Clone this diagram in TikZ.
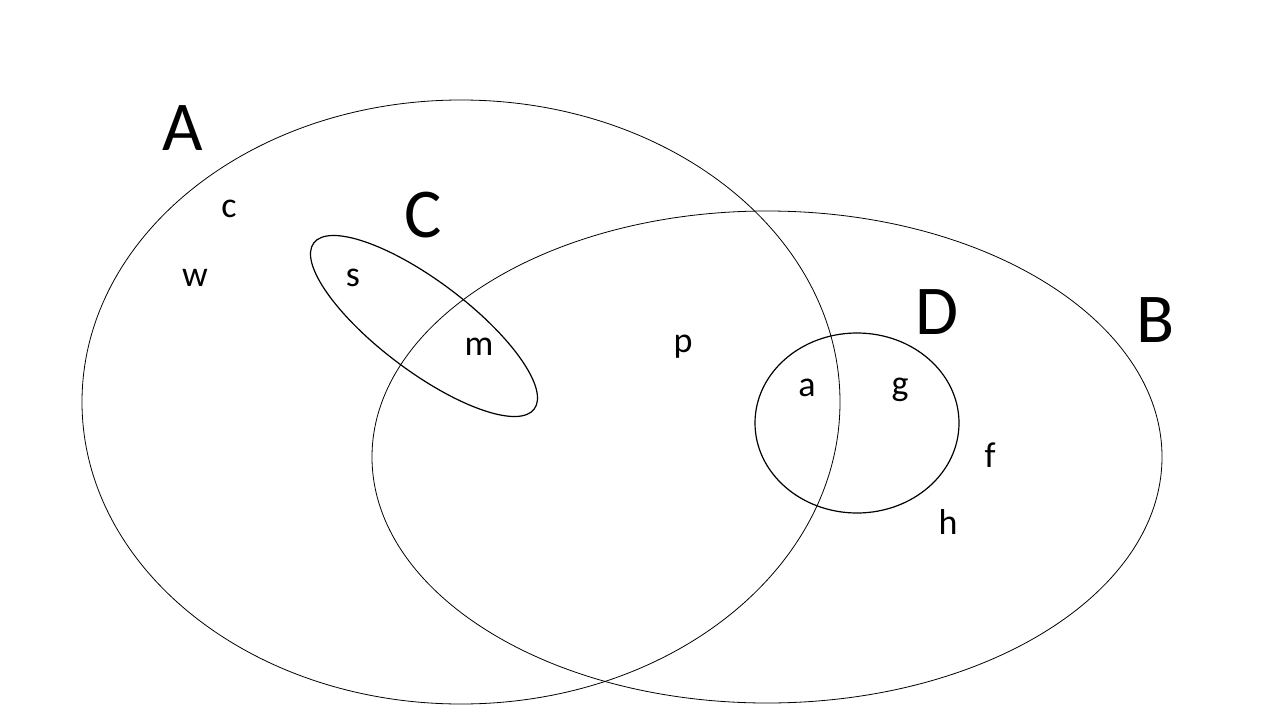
\documentclass[tikz,border=0pt]{standalone}
\usepackage{fontspec}
\setmainfont{Carlito}
\begin{document}
\begin{tikzpicture}[x=1pt,y=-1pt,
  big/.style={font=\fontsize{70}{70}\selectfont},
  small/.style={font=\fontsize{36}{36}\selectfont}]
\useasboundingbox[fill=white] (0,0) rectangle (1280,720);
\draw[line width=0.8pt] (461,402) ellipse [x radius=379, y radius=302];
\draw[line width=0.8pt] (767,457) ellipse [x radius=395, y radius=246];
\draw[line width=1.2pt, rotate around={-37:(424,326)}] (424,326) ellipse [x radius=138, y radius=45];
\draw[line width=1.2pt] (857,423) ellipse [x radius=102, y radius=90];
\node[big] (lA) at (183,128) {A};
\node[big] (lC) at (423,215) {C};
\node[big] (lD) at (937,312) {D};
\node[big] (lB) at (1156,320) {B};
\node[small] (c) at (229,209) {c};
\node[small] (w) at (195,278) {w};
\node[small] (s) at (353,278) {s};
\node[small] (m) at (479,347) {m};
\node[small] (p) at (683,347) {p};
\node[small] (a) at (807,388) {a};
\node[small] (g) at (900,390) {g};
\node[small] (f) at (990,455) {f};
\node[small] (h) at (948,522) {h};
\end{tikzpicture}
\end{document}
